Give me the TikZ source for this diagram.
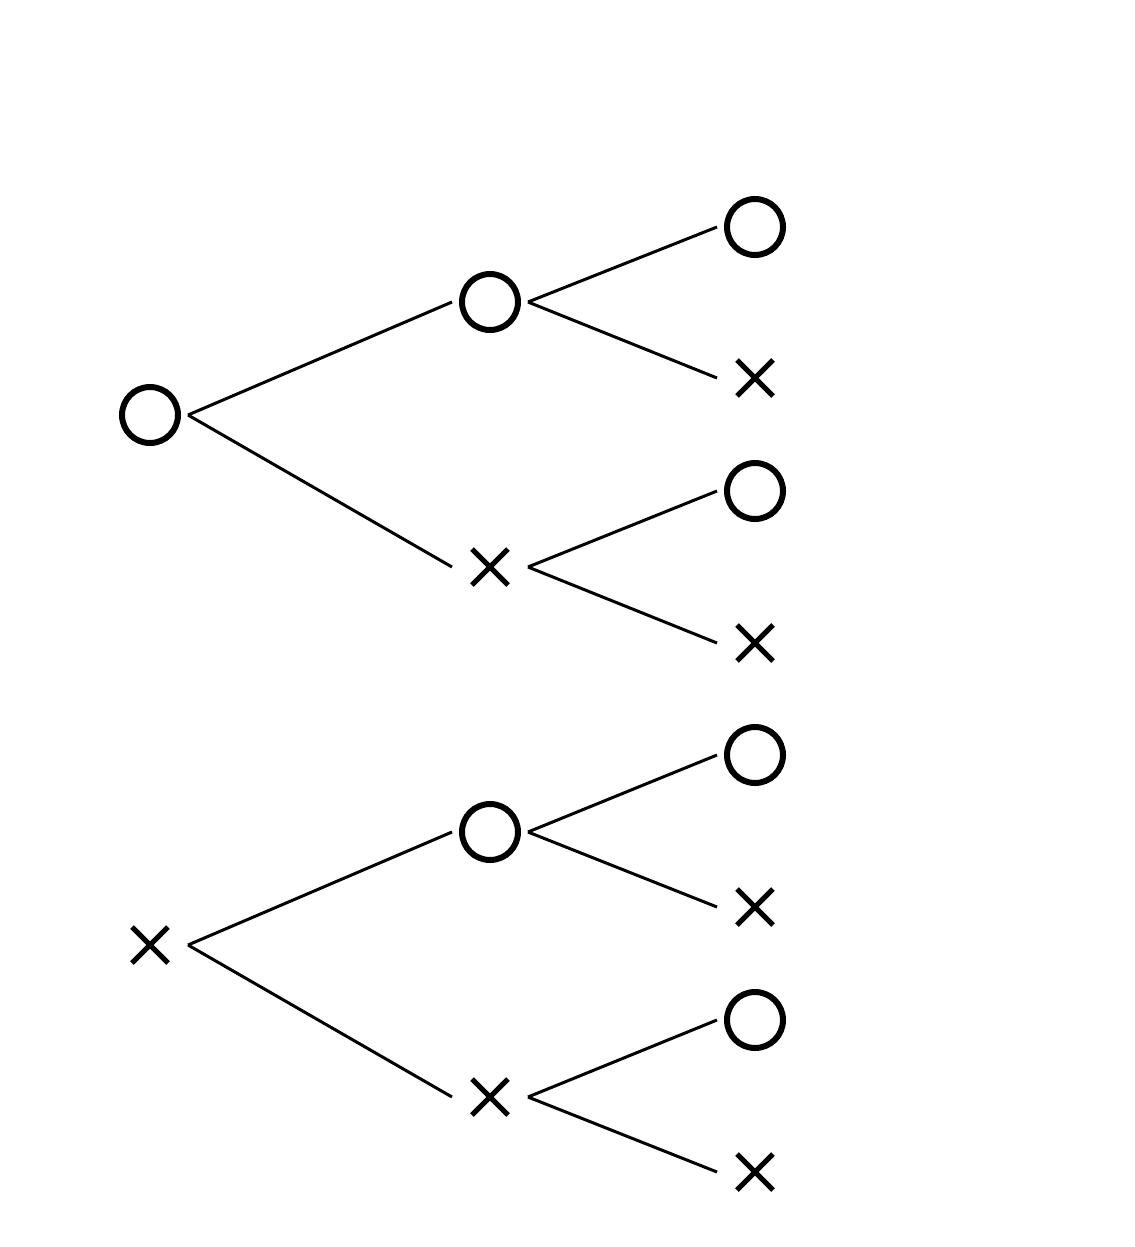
\documentclass[tikz,border=0pt]{standalone}
\usepackage{tikz}

\tikzset{
  omark/.style={circle, draw, line width=0.12cm, minimum size=1.12cm, inner sep=0pt, outer sep=0.2cm},
  xmark/.style={circle, minimum size=1.12cm, inner sep=0pt, outer sep=0.2cm,
    path picture={\draw[line width=0.1cm, shift={(path picture bounding box.center)}]
      (-0.36,-0.36) -- (0.36,0.36) (-0.36,0.36) -- (0.36,-0.36);}},
  branch/.style={line width=0.06cm}
}

\begin{document}
\begin{tikzpicture}

  \useasboundingbox (0,0) rectangle (22.68,-24.94);

  % first draw
  \node[omark] (o) at (3.0,-8.3) {};
  \node[xmark] (x) at (3.0,-18.9) {};

  % second draw
  \node[omark] (oo) at (9.8,-6.04) {};
  \node[xmark] (ox) at (9.8,-11.34) {};
  \node[omark] (xo) at (9.8,-16.64) {};
  \node[xmark] (xx) at (9.8,-21.94) {};

  % third draw
  \node[omark] (ooo) at (15.1,-4.54) {};
  \node[xmark] (oox) at (15.1,-7.56) {};
  \node[omark] (oxo) at (15.1,-9.82) {};
  \node[xmark] (oxx) at (15.1,-12.86) {};
  \node[omark] (xoo) at (15.1,-15.1) {};
  \node[xmark] (xox) at (15.1,-18.14) {};
  \node[omark] (xxo) at (15.1,-20.4) {};
  \node[xmark] (xxx) at (15.1,-23.44) {};

  %branches
  \draw[branch] (o.east) -- (oo.west);
  \draw[branch] (o.east) -- (ox.west);
  \draw[branch] (x.east) -- (xo.west);
  \draw[branch] (x.east) -- (xx.west);

  \draw[branch] (oo.east) -- (ooo.west);
  \draw[branch] (oo.east) -- (oox.west);
  \draw[branch] (ox.east) -- (oxo.west);
  \draw[branch] (ox.east) -- (oxx.west);
  \draw[branch] (xo.east) -- (xoo.west);
  \draw[branch] (xo.east) -- (xox.west);
  \draw[branch] (xx.east) -- (xxo.west);
  \draw[branch] (xx.east) -- (xxx.west);

\end{tikzpicture}
\end{document}
